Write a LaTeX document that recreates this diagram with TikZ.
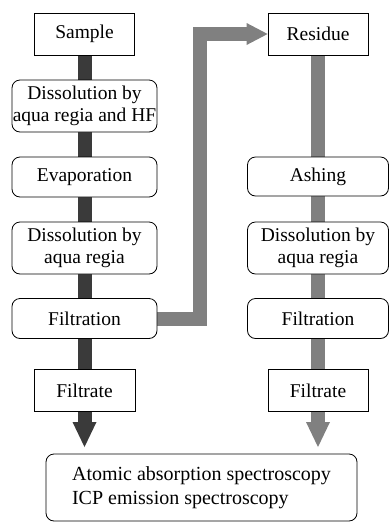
\documentclass[tikz,border=0pt]{standalone}
\usepackage{fontspec}
\setmainfont{Liberation Serif}
\usetikzlibrary{backgrounds,calc}
\definecolor{darkbar}{RGB}{58,58,58}
\definecolor{graybar}{RGB}{128,128,128}
\begin{document}
\begin{tikzpicture}[x=1pt,y=-1pt,
  every node/.style={font=\fontsize{19.5}{22}\selectfont, align=center, fill=white, draw=black, line width=0.8pt, inner sep=0pt},
  sqbox/.style={minimum width=100pt, minimum height=42pt},
  rboxL/.style={rounded corners=8pt, minimum width=145pt},
  rboxR/.style={rounded corners=8pt, minimum width=141pt},
  darkline/.style={draw=darkbar, line width=14pt},
  grayline/.style={draw=graybar, line width=14pt, line join=miter}]
\useasboundingbox (0,0) rectangle (389,523);
% left column
\node[sqbox] (sample) at (84.5,34) {Sample};
\node[rboxL, minimum height=52pt] (diss1) at (84.5,106) {Dissolution by\\aqua regia and HF};
\node[rboxL, minimum height=40pt] (evap) at (84.5,177) {Evaporation};
\node[rboxL, minimum height=52pt] (diss2) at (84.5,248) {Dissolution by\\aqua regia};
\node[rboxL, minimum height=40pt] (filtL) at (84.5,318.5) {Filtration};
\node[sqbox, minimum width=101pt] (fteL) at (84.5,390.5) {Filtrate};
% right column
\node[sqbox] (res) at (318,34) {Residue};
\node[rboxR, minimum height=39pt] (ash) at (318,176.5) {Ashing};
\node[rboxR, minimum height=52pt] (diss3) at (318,248) {Dissolution by\\aqua regia};
\node[rboxR, minimum height=40pt] (filtR) at (318,318.5) {Filtration};
\node[sqbox] (fteR) at (318,390.5) {Filtrate};
% output
\node[rounded corners=8pt, minimum width=311pt, minimum height=67pt, align=left, font=\fontsize{20}{24}\selectfont] (out) at (201.5,487.5) {Atomic absorption spectroscopy\\ICP emission spectroscopy};
% coordinates
\coordinate (tipL) at (84.5,447);
\coordinate (arrL) at (84.5,422);
\coordinate (tipR) at (318,447);
\coordinate (arrR) at (318,422);
\coordinate (bend) at (200,34);
\coordinate (headbase) at ($(res.west)+(-21,0)$);
\begin{pgfonlayer}{background}
\draw[darkline] (sample) -- (diss1) -- (evap) -- (diss2) -- (filtL) -- (fteL) -- (arrL);
\draw[grayline] (res) -- (ash) -- (diss3) -- (filtR) -- (fteR) -- (arrR);
\draw[grayline] (filtL.center) -| (bend) -- (headbase);
\end{pgfonlayer}
\fill[darkbar] ($(arrL)+(-12,0)$) -- ($(arrL)+(12,0)$) -- (tipL) -- cycle;
\fill[graybar] ($(arrR)+(-12,0)$) -- ($(arrR)+(12,0)$) -- (tipR) -- cycle;
\fill[graybar] ($(headbase)+(0,-11)$) -- (res.west) -- ($(headbase)+(0,11)$) -- cycle;
\end{tikzpicture}
\end{document}
